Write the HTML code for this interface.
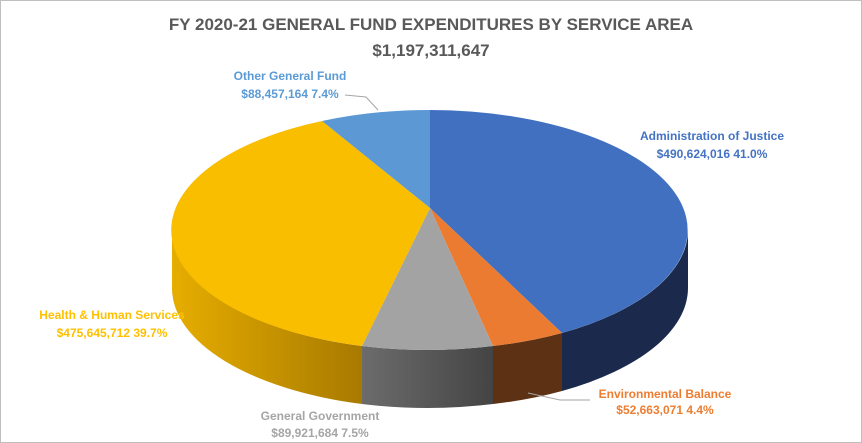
<!DOCTYPE html>
<html><head><style>
body{margin:0;background:#fff;}
svg{display:block;font-family:"Liberation Sans",sans-serif;}
</style></head><body>
<svg width="862" height="443" viewBox="0 0 862 443">
<defs>
<linearGradient id="gy" x1="0" x2="1"><stop offset="0" stop-color="#e6ad00"/><stop offset="1" stop-color="#a87a00"/></linearGradient>
<linearGradient id="gg" x1="0" x2="1"><stop offset="0" stop-color="#6c6c6c"/><stop offset="1" stop-color="#444"/></linearGradient>
</defs>
<rect x="0.5" y="0.5" width="861" height="442" fill="#fff" stroke="#bfbfbf"/>
<text x="431" y="30" text-anchor="middle" font-size="17" font-weight="bold" fill="#595959">FY 2020-21 GENERAL FUND EXPENDITURES BY SERVICE AREA</text>
<text x="431" y="56" text-anchor="middle" font-size="17" font-weight="bold" fill="#595959">$1,197,311,647</text>
<!-- sides -->
<path d="M172,230 A258,120 0 0 0 362,346 L362,404 A258,120 0 0 1 172,288 Z" fill="url(#gy)"/>
<path d="M362,346 A258,120 0 0 0 493,346 L493,404 A258,120 0 0 1 362,404 Z" fill="url(#gg)"/>
<path d="M493,346 A258,120 0 0 0 562,333 L562,391 A258,120 0 0 1 493,404 Z" fill="#5c3114"/>
<path d="M562,333 A258,120 0 0 0 688,230 L688,288 A258,120 0 0 1 562,391 Z" fill="#1b2a4c"/>
<!-- top -->
<path d="M430,208 L430,110 A258,120 0 0 1 562,333 Z" fill="#4170c1"/>
<path d="M430,208 L562,333 A258,120 0 0 1 493,346 Z" fill="#ea7b31"/>
<path d="M430,208 L493,346 A258,120 0 0 1 362,346 Z" fill="#a3a3a3"/>
<path d="M430,208 L362,346 A258,120 0 0 1 322,121 Z" fill="#f9be00"/>
<path d="M430,208 L322,121 A258,120 0 0 1 430,110 Z" fill="#5b98d4"/>
<!-- leaders -->
<polyline points="345,95 366,97 378,110" fill="none" stroke="#a6a6a6"/>
<polyline points="528,393 560,400 590,400" fill="none" stroke="#a6a6a6"/>
<!-- labels -->
<g font-size="12" font-weight="bold">
<text x="290" y="80" text-anchor="middle" fill="#5b9bd5">Other General Fund</text>
<text x="290" y="98" text-anchor="middle" fill="#5b9bd5">$88,457,164  7.4%</text>
<text x="712" y="140" text-anchor="middle" fill="#4472c4">Administration of Justice</text>
<text x="712" y="158" text-anchor="middle" fill="#4472c4">$490,624,016  41.0%</text>
<text x="112" y="319" text-anchor="middle" fill="#ffc000">Health &amp; Human Services</text>
<text x="112" y="337" text-anchor="middle" fill="#ffc000">$475,645,712  39.7%</text>
<text x="320" y="420" text-anchor="middle" fill="#a5a5a5">General Government</text>
<text x="320" y="437" text-anchor="middle" fill="#a5a5a5">$89,921,684  7.5%</text>
<text x="665" y="398" text-anchor="middle" fill="#ed7d31">Environmental Balance</text>
<text x="665" y="414" text-anchor="middle" fill="#ed7d31">$52,663,071  4.4%</text>
</g>
</svg>
</body></html>
